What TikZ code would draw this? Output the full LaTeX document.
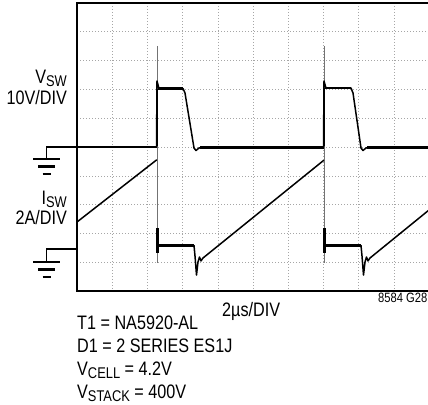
\documentclass[tikz,border=0pt]{standalone}
\usepackage{fontspec}
\setmainfont{Liberation Sans}[FakeStretch=0.83]
\newcommand\mysub[1]{\raisebox{-3.2pt}{\fontsize{15.5}{15.5}\selectfont #1}}
\begin{document}
\begin{tikzpicture}[x=1pt,y=-1pt,
  lbl/.style={inner sep=0pt, font=\fontsize{19.5}{21}\selectfont},
  gridline/.style={gray!70, line width=0.6pt, dash pattern=on 0.8pt off 2.2pt},
  frameline/.style={black, line width=1.8pt},
  trace/.style={black, line width=1.5pt, line join=round, line cap=round},
  flat/.style={black, line width=2.6pt},
  spike/.style={black!55, line width=0.9pt},
  gnd/.style={black, line width=2.2pt}]
\useasboundingbox (0,0) rectangle (428,404);
% grid
\foreach \k in {1,...,9} {
  \draw[gridline] ({77+35.2*\k},3) -- ({77+35.2*\k},291);
  \draw[gridline] (77,{3+28.8*\k}) -- (429,{3+28.8*\k});
}
% frame
\draw[frameline] (77,3) rectangle (429,291);
% spikes (thin gray verticals)
\draw[spike] (157,46) -- (157,263);
\draw[spike] (324,46.5) -- (324,263);
% V trace
\draw[trace] (77,147) -- (156.5,147) -- (157,81) -- (159,88.5) -- (183,88.5) -- (185,93)
  -- (194,148) -- (196,150.5) -- (199,148) -- (205,147.5) -- (323.5,147) -- (324,81)
  -- (326,88) -- (351,88) -- (353,93) -- (361,148) -- (363,150.5) -- (366,148)
  -- (372,147.5) -- (429,147);
\draw[flat] (77,147) -- (156.5,147);
\draw[flat] (158,88.5) -- (183,88.5);
\draw[flat] (200,147.3) -- (323.5,147.3);
\draw[flat] (325,88) -- (351,88);
\draw[flat] (367,147.3) -- (429,147.3);
\draw[flat] (157,89) -- (157,146);
\draw[flat] (324,88) -- (324,146);
% I trace
\draw[trace] (77,222) -- (156.5,160);
\draw[flat] (157.5,228) -- (157.5,253);
\draw[flat] (157.5,245.5) -- (194,245.5);
\draw[trace] (194,245.5) -- (195,256) -- (196.5,275) -- (198,262) -- (199.5,257)
  -- (201,261) -- (203,258) -- (323.5,160.5);
\draw[flat] (324.5,228) -- (324.5,253);
\draw[flat] (324.5,245.5) -- (361,245.5);
\draw[trace] (361,245.5) -- (362,256) -- (363.5,275) -- (365,262) -- (366.5,257)
  -- (368,261) -- (370,258) -- (429,210);
% ground symbols
\draw[frameline] (77,147) -- (46.5,147) -- (46.5,159);
\draw[gnd] (33,159) -- (60,159);
\draw[gnd] (38,166.5) -- (55,166.5);
\draw[gnd] (42.5,174) -- (50.5,174);
\draw[frameline] (77,249) -- (46.5,249) -- (46.5,262);
\draw[gnd] (33,262) -- (60,262);
\draw[gnd] (38,269.5) -- (55,269.5);
\draw[gnd] (42.5,277) -- (50.5,277);
% labels
\node[lbl, anchor=base east] (vsw) at (67,83) {V\mysub{SW}};
\node[lbl, anchor=base east] (vdiv) at (67,104.7) {10V/DIV};
\node[lbl, anchor=base east] (isw) at (67,204) {I\mysub{SW}};
\node[lbl, anchor=base east] (idiv) at (67,224.5) {2A/DIV};
\node[lbl, anchor=base west] (tdiv) at (222,316) {2µs/DIV};
\node[inner sep=0pt, anchor=base west, font=\fontsize{13.5}{14}\selectfont] (code) at (378,302) {8584 G28};
\node[lbl, anchor=base west] (t1) at (77,329.5) {T1 = NA5920-AL};
\node[lbl, anchor=base west] (d1) at (77,352.5) {D1 = 2 SERIES ES1J};
\node[lbl, anchor=base west] (vc) at (77,375.5) {V\mysub{CELL} = 4.2V};
\node[lbl, anchor=base west] (vs) at (77,398.5) {V\mysub{STACK} = 400V};
\end{tikzpicture}
\end{document}
